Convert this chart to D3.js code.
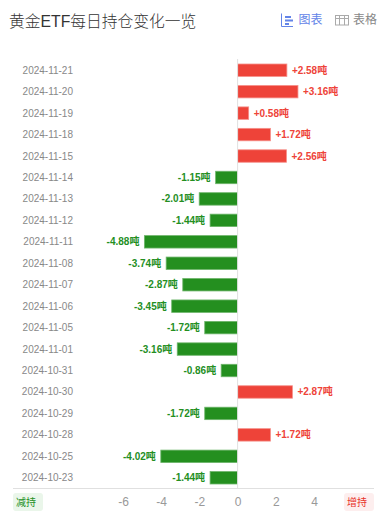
<!DOCTYPE html>
<html>
<head>
<meta charset="utf-8">
<script src="https://cdn.jsdelivr.net/npm/d3@7"></script>
<style>
  html, body { margin: 0; padding: 0; background: #fff; }
  svg { display: block; }
  text { font-family: "Liberation Sans", "Noto Sans CJK SC", sans-serif; }
</style>
</head>
<body>
<div id="chart"></div>
<script>
const dates = ["2024-11-21", "2024-11-20", "2024-11-19", "2024-11-18", "2024-11-15", "2024-11-14", "2024-11-13", "2024-11-12", "2024-11-11", "2024-11-08", "2024-11-07", "2024-11-06", "2024-11-05", "2024-11-01", "2024-10-31", "2024-10-30", "2024-10-29", "2024-10-28", "2024-10-25", "2024-10-23"];
const changes = [2.58, 3.16, 0.58, 1.72, 2.56, -1.15, -2.01, -1.44, -4.88, -3.74, -2.87, -3.45, -1.72, -3.16, -0.86, 2.87, -1.72, 1.72, -4.02, -1.44];
const xTicks = [-6, -4, -2, 0, 2, 4];

const width = 385, height = 532;
const red = "#ee4339", green = "#248f1f";

const svg = d3.select("#chart").append("svg").attr("width", width).attr("height", height);

// Watermarks sit under everything, tiled 253 across and 104 down
const marks = svg.append("g").attr("fill", "#000").attr("fill-opacity", 0.024).attr("font-weight", "bold");
[100, 353].forEach(wx => {
  d3.range(5).forEach(i => {
    marks.append("text").attr("transform", `translate(${wx},${70 + 103 * i}) rotate(-18)`)
      .attr("font-size", 13).attr("letter-spacing", 1.5).text("JIN10.COM");
  });
});
[-5, 248].forEach(wx => {
  d3.range(6).forEach(i => {
    marks.append("text").attr("transform", `translate(${wx},${3 + 104 * i}) rotate(-19)`)
      .attr("font-size", 21).text("金十数据");
  });
});

// Header
svg.append("text").attr("x", 9).attr("y", 26.5).attr("font-size", 15.75).attr("fill", "#333")
  .attr("font-family", "'Noto Sans CJK SC'").attr("font-weight", 300).text("黄金ETF每日持仓变化一览");

const chartIcon = svg.append("g").attr("fill", "none").attr("stroke", "#6384e8");
chartIcon.append("path").attr("d", "M281.5 13.5V26.5H293");
chartIcon.append("path").attr("d", "M285 17H291M285 20.5H293M285 24H289").attr("stroke-width", 2);
svg.append("text").attr("x", 298.5).attr("y", 24).attr("font-size", 12).attr("fill", "#6384e8").text("图表");

const tableIcon = svg.append("g").attr("fill", "none").attr("stroke", "#aaa");
tableIcon.append("rect").attr("x", 335.5).attr("y", 15.5).attr("width", 13).attr("height", 9.5);
tableIcon.append("path").attr("d", "M339.5 15.5V25M344.5 15.5V25M335.5 18.5H348.5");
svg.append("text").attr("x", 353).attr("y", 24).attr("font-size", 12).attr("fill", "#888").text("表格");

// Scales
const x = d3.scaleLinear().domain([-6, 4]).range([123, 314]);
const y = d3.scaleBand().domain(dates).range([59.5, 488.5]).paddingInner(0.42).paddingOuter(0.21);

// Bars
svg.append("g").selectAll("rect").data(dates).join("rect")
  .attr("x", (d, i) => Math.min(x(0), x(changes[i])))
  .attr("y", d => y(d))
  .attr("width", (d, i) => Math.abs(x(changes[i]) - x(0)))
  .attr("height", y.bandwidth())
  .attr("fill", (d, i) => changes[i] > 0 ? red : green)
  .attr("stroke", (d, i) => changes[i] > 0 ? "#f58f89" : "#6db56a")
  .attr("stroke-width", 0.8);

// Value labels
svg.append("g").selectAll("text").data(dates).join("text")
  .attr("x", (d, i) => x(changes[i]) + (changes[i] > 0 ? 5 : -5))
  .attr("y", d => y(d) + y.bandwidth() / 2)
  .attr("dy", "0.35em")
  .attr("text-anchor", (d, i) => changes[i] > 0 ? "start" : "end")
  .attr("font-size", 10)
  .attr("font-weight", "bold")
  .attr("fill", (d, i) => changes[i] > 0 ? red : green)
  .text((d, i) => (changes[i] > 0 ? "+" : "") + changes[i].toFixed(2) + "吨");

// Category axis
svg.append("g").selectAll("text").data(dates).join("text")
  .attr("x", 73)
  .attr("y", d => y(d) + y.bandwidth() / 2)
  .attr("dy", "0.35em")
  .attr("text-anchor", "end")
  .attr("font-size", 10)
  .attr("fill", "#888")
  .text(d => d);

// Zero line and bottom axis
svg.append("line").attr("x1", x(0)).attr("x2", x(0)).attr("y1", 59).attr("y2", 488.5).attr("stroke", "#e0e0e0");
svg.append("line").attr("x1", 13).attr("x2", 374).attr("y1", 488.5).attr("y2", 488.5).attr("stroke", "#e0e0e0");

const axis = svg.append("g").attr("transform", "translate(0,488.5)")
  .call(d3.axisBottom(x).tickValues(xTicks).tickSize(0).tickPadding(9).tickFormat(d3.format("d")));
axis.select(".domain").remove();
axis.selectAll("text").attr("font-size", 12).attr("fill", "#999").attr("font-family", "'Liberation Sans'").text(d => d);

// Direction badges
svg.append("rect").attr("x", 13).attr("y", 493).attr("width", 30).attr("height", 18).attr("rx", 3).attr("fill", "#eaf6ea");
svg.append("text").attr("x", 16).attr("y", 506).attr("font-size", 10).attr("fill", green).text("减持");
svg.append("rect").attr("x", 344).attr("y", 493).attr("width", 30).attr("height", 18).attr("rx", 3).attr("fill", "#fdeeee");
svg.append("text").attr("x", 347).attr("y", 506).attr("font-size", 10).attr("fill", "#e8332a").text("增持");
</script>
</body>
</html>
